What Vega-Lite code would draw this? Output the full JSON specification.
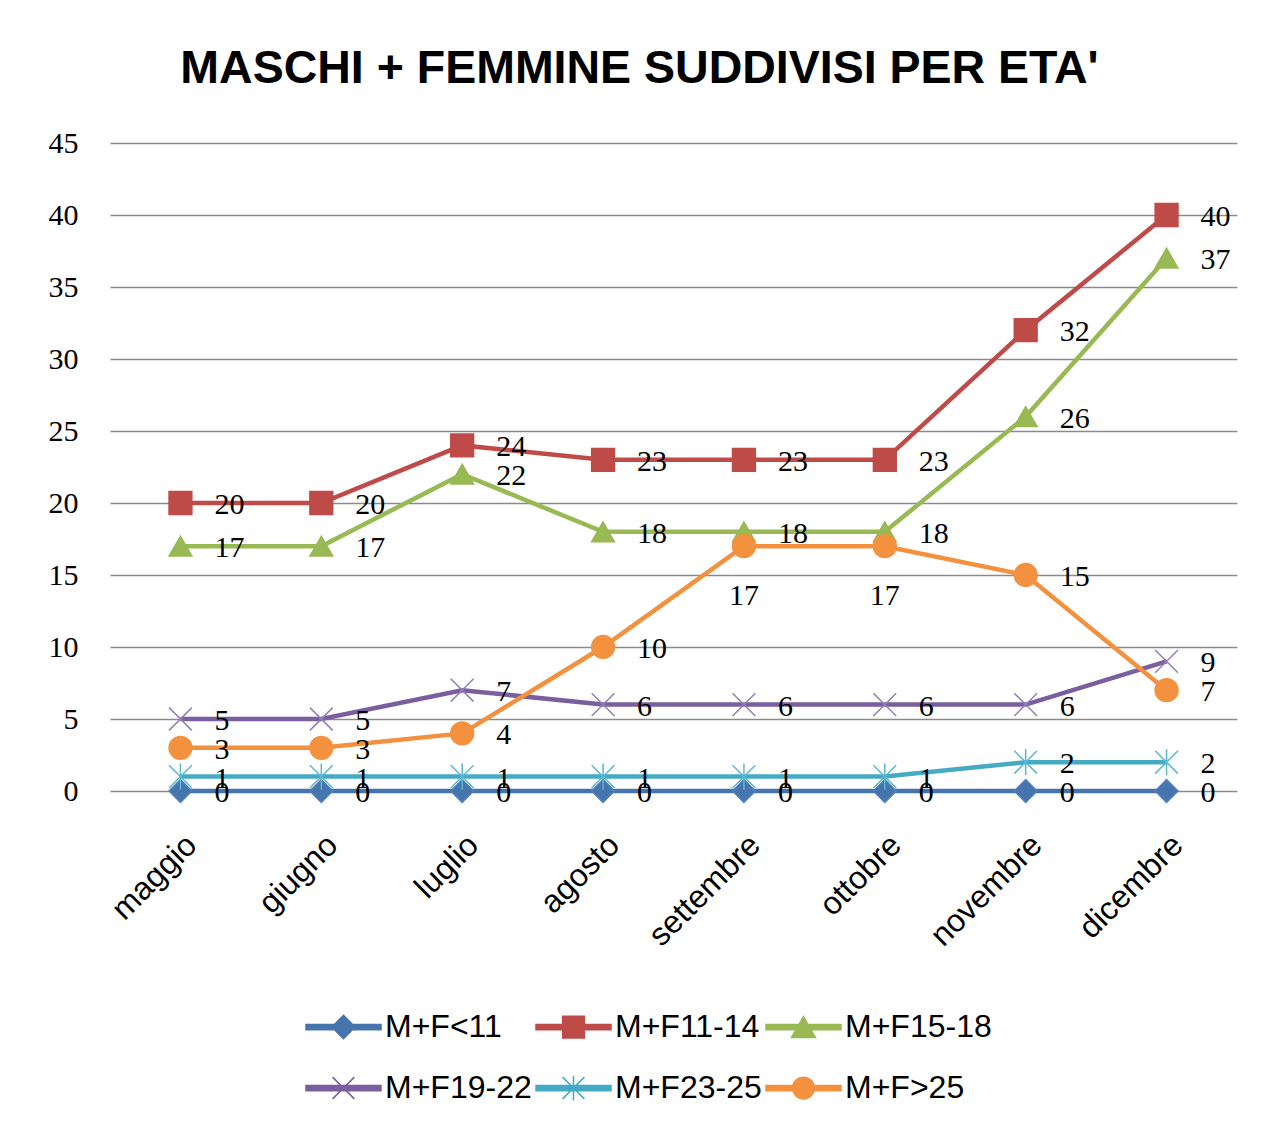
{
  "$schema": "https://vega.github.io/schema/vega-lite/v6.json",
  "width": 1127,
  "height": 648,
  "autosize": "none",
  "padding": {"left": 110, "top": 143, "right": 33, "bottom": 341},
  "background": "white",
  "title": {
    "text": "MASCHI + FEMMINE SUDDIVISI PER ETA'",
    "font": "Liberation Sans",
    "fontSize": 46.5,
    "fontWeight": "bold",
    "color": "#000000",
    "anchor": "middle",
    "dx": -34,
    "dy": 61,
    "offset": 60,
    "baseline": "alphabetic"
  },
  "config": {"view": {"stroke": null}},
  "data": {
    "values": [
      {"month": "maggio", "series": "M+F<11", "value": 0},
      {"month": "giugno", "series": "M+F<11", "value": 0},
      {"month": "luglio", "series": "M+F<11", "value": 0},
      {"month": "agosto", "series": "M+F<11", "value": 0},
      {"month": "settembre", "series": "M+F<11", "value": 0},
      {"month": "ottobre", "series": "M+F<11", "value": 0},
      {"month": "novembre", "series": "M+F<11", "value": 0},
      {"month": "dicembre", "series": "M+F<11", "value": 0},
      {"month": "maggio", "series": "M+F11-14", "value": 20},
      {"month": "giugno", "series": "M+F11-14", "value": 20},
      {"month": "luglio", "series": "M+F11-14", "value": 24},
      {"month": "agosto", "series": "M+F11-14", "value": 23},
      {"month": "settembre", "series": "M+F11-14", "value": 23},
      {"month": "ottobre", "series": "M+F11-14", "value": 23},
      {"month": "novembre", "series": "M+F11-14", "value": 32},
      {"month": "dicembre", "series": "M+F11-14", "value": 40},
      {"month": "maggio", "series": "M+F15-18", "value": 17},
      {"month": "giugno", "series": "M+F15-18", "value": 17},
      {"month": "luglio", "series": "M+F15-18", "value": 22},
      {"month": "agosto", "series": "M+F15-18", "value": 18},
      {"month": "settembre", "series": "M+F15-18", "value": 18},
      {"month": "ottobre", "series": "M+F15-18", "value": 18},
      {"month": "novembre", "series": "M+F15-18", "value": 26},
      {"month": "dicembre", "series": "M+F15-18", "value": 37},
      {"month": "maggio", "series": "M+F19-22", "value": 5},
      {"month": "giugno", "series": "M+F19-22", "value": 5},
      {"month": "luglio", "series": "M+F19-22", "value": 7},
      {"month": "agosto", "series": "M+F19-22", "value": 6},
      {"month": "settembre", "series": "M+F19-22", "value": 6},
      {"month": "ottobre", "series": "M+F19-22", "value": 6},
      {"month": "novembre", "series": "M+F19-22", "value": 6},
      {"month": "dicembre", "series": "M+F19-22", "value": 9},
      {"month": "maggio", "series": "M+F23-25", "value": 1},
      {"month": "giugno", "series": "M+F23-25", "value": 1},
      {"month": "luglio", "series": "M+F23-25", "value": 1},
      {"month": "agosto", "series": "M+F23-25", "value": 1},
      {"month": "settembre", "series": "M+F23-25", "value": 1},
      {"month": "ottobre", "series": "M+F23-25", "value": 1},
      {"month": "novembre", "series": "M+F23-25", "value": 2},
      {"month": "dicembre", "series": "M+F23-25", "value": 2},
      {"month": "maggio", "series": "M+F>25", "value": 3},
      {"month": "giugno", "series": "M+F>25", "value": 3},
      {"month": "luglio", "series": "M+F>25", "value": 4},
      {"month": "agosto", "series": "M+F>25", "value": 10},
      {"month": "settembre", "series": "M+F>25", "value": 17},
      {"month": "ottobre", "series": "M+F>25", "value": 17},
      {"month": "novembre", "series": "M+F>25", "value": 15},
      {"month": "dicembre", "series": "M+F>25", "value": 7}
    ]
  },
  "encoding": {
    "x": {
      "field": "month",
      "type": "nominal",
      "sort": ["maggio", "giugno", "luglio", "agosto", "settembre", "ottobre", "novembre", "dicembre"],
      "scale": {"type": "point", "padding": 0.5},
      "axis": {
        "title": null,
        "labelAngle": -45,
        "labelFont": "Liberation Sans",
        "labelFontSize": 32,
        "labelColor": "#000000",
        "labelPadding": 38,
        "domain": false,
        "ticks": false,
        "grid": false
      }
    },
    "y": {
      "field": "value",
      "type": "quantitative",
      "scale": {"domain": [0, 45], "nice": false, "zero": true},
      "axis": {
        "title": null,
        "values": [0, 5, 10, 15, 20, 25, 30, 35, 40, 45],
        "labelFont": "Liberation Serif",
        "labelFontSize": 30,
        "labelColor": "#000000",
        "labelPadding": 32,
        "domain": false,
        "ticks": false,
        "grid": true,
        "gridColor": "#8a8a8a",
        "gridWidth": 1.3
      }
    }
  },
  "layer": [
    {
      "mark": {"type": "line", "strokeWidth": 4.5},
      "encoding": {
        "color": {
          "field": "series",
          "type": "nominal",
          "scale": {
            "domain": ["M+F<11", "M+F11-14", "M+F15-18", "M+F19-22", "M+F23-25", "M+F>25"],
            "range": ["#4674AD", "#BE4B48", "#98B954", "#7B5E9F", "#46AAC5", "#F3913F"]
          },
          "legend": {
            "orient": "none",
            "legendX": 195,
            "legendY": 866,
            "direction": "horizontal",
            "columns": 3,
            "title": null,
            "labelFont": "Liberation Sans",
            "labelFontSize": 32,
            "labelColor": "#000000",
            "labelLimit": 400,
            "labelOffset": 3,
            "symbolSize": 5625,
            "symbolStrokeWidth": 1.5,
            "clipHeight": 36,
            "rowPadding": 25,
            "columnPadding": 3,
            "encode": {
              "symbols": {
                "update": {
                  "shape": {"signal": "datum.value === 'M+F<11' ? 'M-1,-0.07H1V0.07H-1ZM0,-0.31L0.31,0L0,0.31L-0.31,0Z' : datum.value === 'M+F11-14' ? 'M-1,-0.07H1V0.07H-1ZM-0.29,-0.29H0.29V0.29H-0.29Z' : datum.value === 'M+F15-18' ? 'M-1,-0.07H1V0.07H-1ZM0,-0.28L0.32,0.28H-0.32Z' : datum.value === 'M+F19-22' ? 'M-1,-0.07H1V0.07H-1ZM-0.29,-0.29L0.29,0.29M-0.29,0.29L0.29,-0.29' : datum.value === 'M+F23-25' ? 'M-1,-0.07H1V0.07H-1ZM-0.29,-0.29L0.29,0.29M-0.29,0.29L0.29,-0.29M0,-0.33V0.33' : 'M-1,-0.07H1V0.07H-1ZM-0.29,0A0.29,0.29,0,1,1,0.29,0A0.29,0.29,0,1,1,-0.29,0Z'"},
                  "fill": {"scale": "color", "field": "value"},
                  "stroke": {"scale": "color", "field": "value"},
                  "strokeWidth": {"value": 1.5},
                  "opacity": {"value": 1}
                }
              }
            }
          }
        }
      }
    },
    {
      "mark": {"type": "point", "filled": true, "size": 520, "strokeWidth": 1.5, "opacity": 1},
      "encoding": {
        "color": {
          "field": "series",
          "type": "nominal",
          "scale": {
            "domain": ["M+F<11", "M+F11-14", "M+F15-18", "M+F19-22", "M+F23-25", "M+F>25"],
            "range": ["#4674AD", "#BE4B48", "#98B954", "#7B5E9F", "#46AAC5", "#F3913F"]
          },
          "legend": null
        },
        "stroke": {
          "field": "series",
          "type": "nominal",
          "scale": {
            "domain": ["M+F>25", "M+F<11", "M+F11-14", "M+F15-18", "M+F19-22", "M+F23-25"],
            "range": ["#F3913F", "#4F81BD", "#BE4B48", "#98B954", "#9380B8", "#5BB8D0"]
          },
          "legend": null
        },
        "shape": {
          "field": "series",
          "type": "nominal",
          "scale": {
            "domain": ["M+F23-25", "M+F>25", "M+F<11", "M+F11-14", "M+F15-18", "M+F19-22"],
            "range": ["M-1,-1L1,1M-1,1L1,-1M0,-1.15L0,1.15", "circle", "diamond", "square", "triangle-up", "M-1,-1L1,1M-1,1L1,-1"]
          },
          "legend": null
        }
      }
    },
    {
      "transform": [{"filter": "!(datum.series === 'M+F>25' && (datum.month === 'settembre' || datum.month === 'ottobre'))"}],
      "mark": {"type": "text", "align": "left", "baseline": "middle", "dx": 34, "dy": 2, "font": "Liberation Serif", "fontSize": 30, "color": "#000000"},
      "encoding": {"text": {"field": "value", "type": "quantitative"}}
    },
    {
      "transform": [{"filter": "datum.series === 'M+F>25' && (datum.month === 'settembre' || datum.month === 'ottobre')"}],
      "mark": {"type": "text", "align": "center", "baseline": "middle", "dy": 50, "font": "Liberation Serif", "fontSize": 30, "color": "#000000"},
      "encoding": {"text": {"field": "value", "type": "quantitative"}}
    }
  ]
}
